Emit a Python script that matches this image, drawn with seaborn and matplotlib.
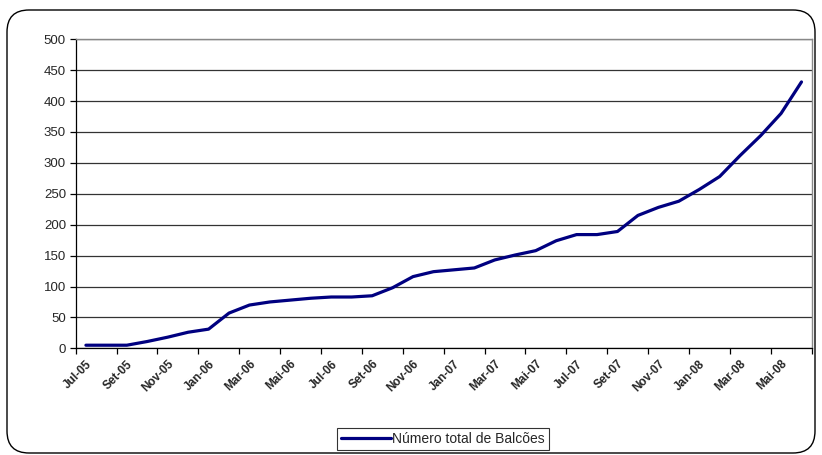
import numpy as np
import pandas as pd
import matplotlib.pyplot as plt
import seaborn as sns
from matplotlib.patches import FancyBboxPatch
from matplotlib.transforms import IdentityTransform

# monthly totals, Jul-05 .. Jun-08
months = ['Jul-05', 'Ago-05', 'Set-05', 'Out-05', 'Nov-05', 'Dez-05',
          'Jan-06', 'Fev-06', 'Mar-06', 'Abr-06', 'Mai-06', 'Jun-06',
          'Jul-06', 'Ago-06', 'Set-06', 'Out-06', 'Nov-06', 'Dez-06',
          'Jan-07', 'Fev-07', 'Mar-07', 'Abr-07', 'Mai-07', 'Jun-07',
          'Jul-07', 'Ago-07', 'Set-07', 'Out-07', 'Nov-07', 'Dez-07',
          'Jan-08', 'Fev-08', 'Mar-08', 'Abr-08', 'Mai-08', 'Jun-08']
balcoes = [5, 5, 5, 11, 18, 26, 31, 57, 70, 75, 78, 81,
           83, 83, 85, 98, 116, 124, 127, 130, 143, 151, 158, 174,
           184, 184, 189, 215, 228, 238, 257, 278, 312, 344, 380, 431]

df = pd.DataFrame({'idx': np.arange(len(months)), 'mes': months, 'total': balcoes})

sns.set_style("white")
plt.rcParams['font.family'] = ['Liberation Sans', 'DejaVu Sans']

W, H = 822, 455
fig = plt.figure(figsize=(W / 100, H / 100), dpi=100)
ax = fig.add_axes([75.7 / W, 1 - 348.3 / H, (811.7 - 75.7) / W, (348.3 - 39.3) / H])

sns.lineplot(data=df, x='idx', y='total', ax=ax, color='#000080', linewidth=2.3,
             label='Número total de Balcões')

ax.set_xlim(-0.5, len(months) - 0.5)
ax.set_ylim(0, 500)
ax.set_yticks(range(0, 501, 50))
ax.yaxis.grid(True, color='#333333', linewidth=0.9)
ax.set_xlabel('')
ax.set_ylabel('')

# labels every second month, tick marks between categories
ax.set_xticks(df['idx'][::2])
ax.set_xticklabels(df['mes'][::2], rotation=45, ha='right', va='top',
                   rotation_mode='anchor', fontsize=8.5, fontweight='bold')
ax.set_xticks(np.arange(-0.5, len(months), 2), minor=True)
ax.tick_params(axis='x', which='major', length=0, pad=7)
ax.tick_params(axis='x', which='minor', length=4, width=0.9, color='black', bottom=True)
ax.tick_params(axis='y', length=4, width=0.9, color='black', left=True, labelsize=9.5, pad=3)

for side in ['left', 'bottom']:
    ax.spines[side].set_color('black')
    ax.spines[side].set_linewidth(0.9)
for side in ['top', 'right']:
    ax.spines[side].set_color('#888888')
    ax.spines[side].set_linewidth(1.0)

leg = ax.legend(loc='center', bbox_to_anchor=(443 / W, 16 / H),
                bbox_transform=fig.transFigure, frameon=True, fancybox=False,
                fontsize=10, handlelength=3.6, handletextpad=0.1,
                borderpad=0.3, borderaxespad=0)
leg.get_frame().set_edgecolor('black')
leg.get_frame().set_linewidth(0.8)

# rounded outer border
border = FancyBboxPatch((7, 2), 808, 443,
                        boxstyle='round,pad=0,rounding_size=22',
                        transform=IdentityTransform(), fill=False,
                        edgecolor='black', linewidth=1.0)
fig.patches.append(border)

fig.savefig('out.png', dpi=100)
